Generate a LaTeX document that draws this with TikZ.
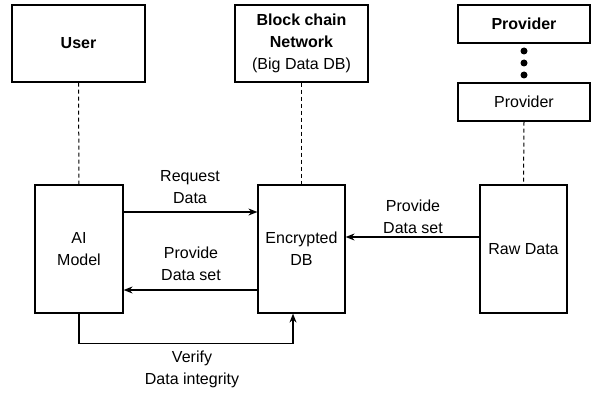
\documentclass[tikz,border=0pt]{standalone}
\usepackage{fontspec}
\setmainfont{Liberation Sans}
\usetikzlibrary{arrows.meta}
\begin{document}
\begin{tikzpicture}[x=1pt,y=1pt,
  box/.style={draw, line width=1.2pt, align=center, inner sep=0pt, font=\fontsize{16}{22}\selectfont},
  lbl/.style={align=center, inner sep=0pt, font=\fontsize{16}{22}\selectfont},
  life/.style={line width=1pt, dash pattern=on 4pt off 3pt},
  arr/.style={line width=1.2pt, -{Stealth[length=9pt,width=7pt]}},
  dotc/.style={fill=black, circle, inner sep=0pt, minimum size=7pt}]
\useasboundingbox (0,0) rectangle (594,-393);
\node[box, minimum width=133pt, minimum height=77pt] (user) at (78.5,-43.5) {\textbf{User}};
\node[box, minimum width=133pt, minimum height=77pt] (bc) at (301.5,-43.5) {\textbf{Block chain}\\\textbf{Network}\\(Big Data DB)};
\node[box, minimum width=132pt, minimum height=38pt] (p1) at (524,-24) {\textbf{Provider}};
\node[box, minimum width=132pt, minimum height=38pt] (p2) at (524,-102) {Provider};
\node[dotc] (d1) at (524,-51) {};
\node[dotc] (d2) at (524,-63) {};
\node[dotc] (d3) at (524,-75) {};
\node[box, minimum width=88pt, minimum height=128pt] (ai) at (79,-249) {AI\\Model};
\node[box, minimum width=87pt, minimum height=128pt] (db) at (301.5,-249) {Encrypted\\DB};
\node[box, minimum width=87pt, minimum height=128pt] (raw) at (523.5,-249) {Raw Data};
\draw[life] (user.south) -- (ai.north);
\draw[life] (bc.south) -- (db.north);
\draw[life] (p2.south) -- (raw.north);
\draw[arr] ([yshift=37pt]ai.east) -- ([yshift=37pt]ai.east -| db.west);
\draw[arr] ([yshift=-41pt]db.west) -- ([yshift=-41pt]db.west -| ai.east);
\draw[arr] ([yshift=12pt]raw.west) -- ([yshift=12pt]raw.west -| db.east);
\coordinate (vt) at ([xshift=-8.5pt]db.south);
\draw[arr] (ai.south) -- ++(0,-30) -| (vt);
\node[lbl] (l1) at (190,-187) {Request\\Data};
\node[lbl] (l2) at (191,-264) {Provide\\Data set};
\node[lbl] (l3) at (413,-217) {Provide\\Data set};
\node[lbl] (l4) at (192,-369) {Verify\\Data integrity};
\end{tikzpicture}
\end{document}
